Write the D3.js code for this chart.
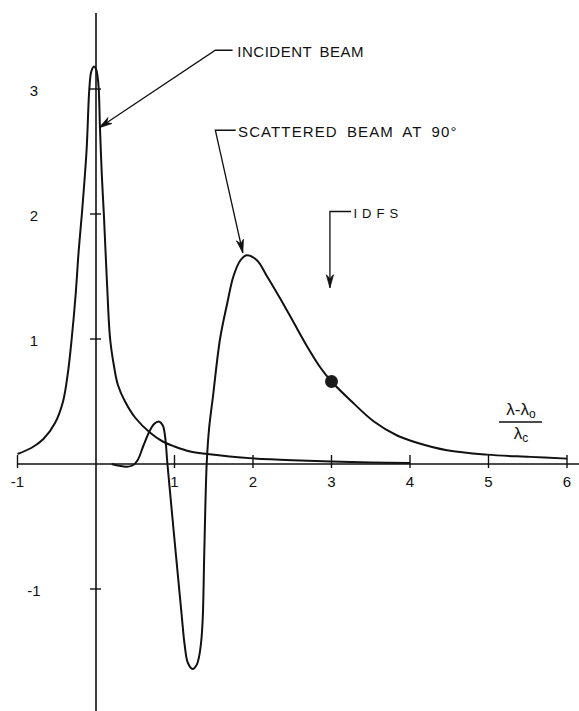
<!DOCTYPE html>
<html>
<head>
<meta charset="utf-8">
<script src="https://cdn.jsdelivr.net/npm/d3@7/dist/d3.min.js"></script>
<style>
  html, body { margin: 0; padding: 0; background: #fff; }
  svg { display: block; }
  text { font-family: "Liberation Sans", Arial, sans-serif; fill: #111; }
</style>
</head>
<body>
<svg id="chart" width="579" height="711"></svg>
<script>
// Wavelength shift (λ-λ0)/λc and relative intensity of the two beams
const incidentX = [-1.0, -0.82, -0.67, -0.52, -0.42, -0.36, -0.31, -0.26, -0.22, -0.18, -0.12, -0.085, -0.06, -0.025, 0.0, 0.02, 0.035, 0.05, 0.075, 0.1, 0.14, 0.18, 0.23, 0.28, 0.37, 0.5, 0.69, 0.85, 1.0, 1.2, 1.42, 1.7, 2.0, 2.5, 3.0, 3.5, 4.0];
const incidentY = [0.08, 0.13, 0.2, 0.33, 0.5, 0.72, 1.0, 1.35, 1.71, 2.0, 2.51, 3.0, 3.14, 3.18, 3.16, 3.1, 3.0, 2.7, 2.3, 2.0, 1.45, 1.0, 0.78, 0.63, 0.5, 0.37, 0.25, 0.18, 0.14, 0.1, 0.08, 0.06, 0.045, 0.03, 0.02, 0.012, 0.008];

const scatteredX = [0.2, 0.3, 0.39, 0.47, 0.53, 0.6, 0.68, 0.74, 0.8, 0.85, 0.88, 0.91, 0.95, 0.99, 1.04, 1.09, 1.13, 1.17, 1.23, 1.28, 1.31, 1.34, 1.36, 1.38, 1.41, 1.44, 1.49, 1.58, 1.67, 1.75, 1.84, 1.92, 2.05, 2.18, 2.35, 2.52, 2.69, 2.86, 3.0, 3.24, 3.54, 3.83, 4.09, 4.47, 4.98, 5.53, 6.0];
const scatteredY = [0.0, -0.015, -0.022, -0.01, 0.03, 0.14, 0.26, 0.32, 0.34, 0.31, 0.22, 0.0, -0.27, -0.54, -0.87, -1.2, -1.45, -1.59, -1.64, -1.61, -1.55, -1.42, -1.23, -0.69, 0.0, 0.28, 0.54, 1.0, 1.28, 1.5, 1.63, 1.67, 1.63, 1.5, 1.32, 1.13, 0.94, 0.77, 0.66, 0.51, 0.34, 0.23, 0.17, 0.11, 0.075, 0.057, 0.043];

// Marked point on the scattered curve
const markerX = [3.0];
const markerY = [0.66];

const xTicks = [-1, 1, 2, 3, 4, 5, 6];
const xTickLabels = ["-1", "1", "2", "3", "4", "5", "6"];
const yTicks = [-1, 1, 2, 3];
const yTickLabels = ["-1", "1", "2", "3"];

const svg = d3.select("#chart");
const x = d3.scaleLinear().domain([-1, 6]).range([17.5, 567]);
const y = d3.scaleLinear().domain([-1, 3]).range([589, 89]);

const ink = "#111";

// Axes: horizontal wavelength axis and vertical axis through the origin
svg.append("line")
  .attr("x1", x(-1)).attr("x2", 579)
  .attr("y1", y(0)).attr("y2", y(0))
  .attr("stroke", ink).attr("stroke-width", 1.6);
svg.append("line")
  .attr("x1", x(0)).attr("x2", x(0))
  .attr("y1", 13).attr("y2", 711)
  .attr("stroke", ink).attr("stroke-width", 1.6);

// x ticks and labels
svg.append("g").selectAll("line").data(xTicks).join("line")
  .attr("x1", d => x(d)).attr("x2", d => x(d))
  .attr("y1", y(0) - 9).attr("y2", y(0) + 4)
  .attr("stroke", ink).attr("stroke-width", 1.4);
svg.append("g").selectAll("text").data(xTicks).join("text")
  .attr("x", d => x(d)).attr("y", y(0) + 23)
  .attr("text-anchor", "middle")
  .attr("font-size", 15)
  .text((d, i) => xTickLabels[i]);

// y ticks and labels
svg.append("g").selectAll("line").data(yTicks).join("line")
  .attr("x1", x(0) - 6).attr("x2", x(0) + 5)
  .attr("y1", d => y(d)).attr("y2", d => y(d))
  .attr("stroke", ink).attr("stroke-width", 1.4);
svg.append("g").selectAll("text").data(yTicks).join("text")
  .attr("x", 34).attr("y", d => y(d) + 7)
  .attr("text-anchor", "middle")
  .attr("font-size", 15)
  .text((d, i) => yTickLabels[i]);

// Curves
const line = d3.line()
  .x(d => x(d[0])).y(d => y(d[1]))
  .curve(d3.curveCatmullRom.alpha(0.5));

svg.append("path")
  .attr("d", line(d3.zip(incidentX, incidentY)))
  .attr("fill", "none").attr("stroke", ink).attr("stroke-width", 2)
  .attr("stroke-linejoin", "round");
svg.append("path")
  .attr("d", line(d3.zip(scatteredX, scatteredY)))
  .attr("fill", "none").attr("stroke", ink).attr("stroke-width", 2)
  .attr("stroke-linejoin", "round");

svg.append("g").selectAll("circle").data(d3.zip(markerX, markerY)).join("circle")
  .attr("cx", d => x(d[0])).attr("cy", d => y(d[1]))
  .attr("r", 6.5).attr("fill", "#1a1a1a");

// Annotation leaders with arrowheads
function arrowHead(tip, from, len = 13, half = 3.6) {
  const dx = tip[0] - from[0], dy = tip[1] - from[1];
  const L = Math.hypot(dx, dy), ux = dx / L, uy = dy / L;
  const bx = tip[0] - ux * len, by = tip[1] - uy * len;
  const mx = tip[0] - ux * len * 0.7, my = tip[1] - uy * len * 0.7;
  svg.append("path")
    .attr("d", `M${tip[0]},${tip[1]} L${bx - uy * half},${by + ux * half} L${mx},${my} L${bx + uy * half},${by - ux * half} Z`)
    .attr("fill", ink).attr("stroke", ink).attr("stroke-width", 0.8).attr("stroke-linejoin", "miter");
}
function leader(points) {
  const px = points.map(p => [x(p[0]), y(p[1])]);
  svg.append("path")
    .attr("d", d3.line()(px))
    .attr("fill", "none").attr("stroke", ink).attr("stroke-width", 1.3);
  arrowHead(px[px.length - 1], px[px.length - 2]);
}

// INCIDENT BEAM
leader([[1.74, 3.31], [1.52, 3.31], [0.04, 2.69]]);
svg.append("text")
  .attr("x", x(1.8)).attr("y", 57)
  .attr("font-size", 15).attr("letter-spacing", 0.5).attr("word-spacing", 3)
  .text("INCIDENT BEAM");

// SCATTERED BEAM AT 90°
leader([[1.78, 2.67], [1.52, 2.67], [1.87, 1.69]]);
svg.append("text")
  .attr("x", x(1.81)).attr("y", 137)
  .attr("font-size", 15).attr("letter-spacing", 1.1).attr("word-spacing", 4)
  .text("SCATTERED BEAM AT 90°");

// IDFS
leader([[3.25, 2.02], [2.98, 2.02], [2.98, 1.41]]);
svg.append("text")
  .attr("x", x(3.28)).attr("y", 218)
  .attr("font-size", 13).attr("letter-spacing", 5)
  .text("IDFS");

// Axis label: (λ-λ0)/λc
const fx = 521;
const lab = svg.append("g");
const num = lab.append("text").attr("x", fx).attr("y", 415)
  .attr("text-anchor", "middle").attr("font-size", 17);
num.append("tspan").text("λ-λ");
num.append("tspan").attr("font-size", 12).attr("dy", 3).text("o");
lab.append("line")
  .attr("x1", fx - 22).attr("x2", fx + 21)
  .attr("y1", 422).attr("y2", 422)
  .attr("stroke", ink).attr("stroke-width", 1.3);
const den = lab.append("text").attr("x", fx).attr("y", 439)
  .attr("text-anchor", "middle").attr("font-size", 17);
den.append("tspan").text("λ");
den.append("tspan").attr("font-size", 12).attr("dy", 3).text("c");
</script>
</body>
</html>
